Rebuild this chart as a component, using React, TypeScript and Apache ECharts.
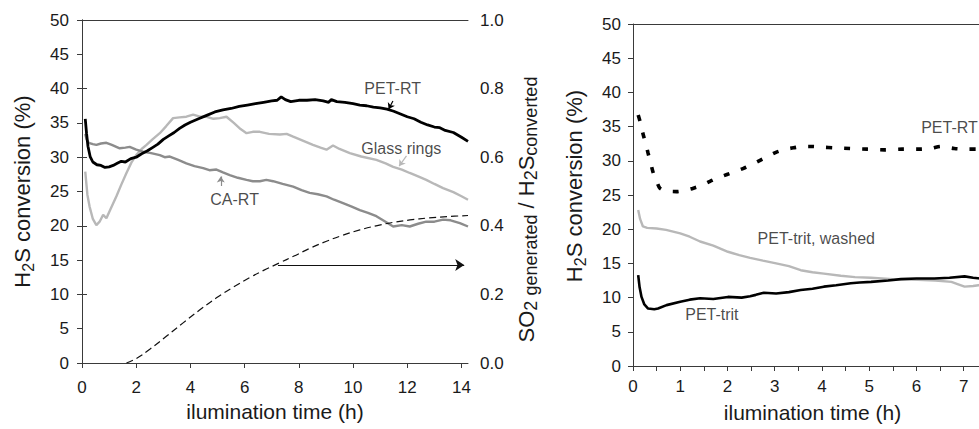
import React, { useEffect, useRef } from 'react';
import * as echarts from 'echarts';

const FONT = '"Liberation Sans", Arial, Helvetica, sans-serif';
const TEXT = '#1a1a1a';
const AXIS = '#3a3a3a';

// ---------- Left panel data ----------
const LEFT_X_LABELS = [0, 2, 4, 6, 8, 10, 12, 14];
const LEFT_X_MAX = 14.24;

const PET_RT_L = [
  [0.12, 35.6], [0.17, 33.4], [0.22, 31.6], [0.3, 30.1], [0.4, 29.3], [0.55, 28.9], [0.7, 28.8],
  [0.85, 28.5], [1.0, 28.6], [1.15, 28.8], [1.3, 29.1], [1.45, 29.4], [1.6, 29.3], [1.8, 29.8],
  [2.0, 30.0], [2.2, 30.5], [2.4, 30.9], [2.6, 31.4], [2.8, 31.9], [3.0, 32.6], [3.2, 33.1],
  [3.4, 33.6], [3.6, 34.2], [3.8, 34.7], [4.0, 35.1], [4.3, 35.6], [4.6, 36.1], [4.9, 36.6],
  [5.2, 36.9], [5.5, 37.1], [5.8, 37.4], [6.1, 37.6], [6.4, 37.8], [6.7, 38.0], [7.0, 38.2],
  [7.2, 38.3], [7.35, 38.8], [7.5, 38.4], [7.7, 38.1], [8.0, 38.3], [8.3, 38.3], [8.6, 38.4],
  [8.9, 38.2], [9.1, 38.0], [9.2, 38.4], [9.4, 38.1], [9.7, 38.0], [10.0, 37.8], [10.25, 37.6],
  [10.5, 37.5], [10.75, 37.3], [11.0, 37.2], [11.25, 37.0], [11.5, 36.7], [11.75, 36.3],
  [12.0, 35.9], [12.25, 35.6], [12.5, 35.1], [12.75, 34.7], [13.0, 34.4], [13.2, 34.3],
  [13.4, 33.9], [13.7, 33.6], [14.0, 32.9], [14.24, 32.3],
];

const GLASS_RINGS = [
  [0.12, 27.9], [0.2, 24.5], [0.28, 22.8], [0.4, 21.0], [0.53, 20.1], [0.65, 20.6], [0.78, 21.6],
  [0.9, 21.1], [1.05, 22.4], [1.27, 24.3], [1.45, 26.0], [1.64, 27.7], [1.82, 29.2], [2.0, 30.3],
  [2.2, 31.2], [2.38, 31.8], [2.6, 32.6], [2.87, 33.5], [3.1, 34.5], [3.36, 35.7], [3.6, 35.8],
  [3.85, 35.9], [4.1, 36.2], [4.35, 35.9], [4.59, 35.9], [4.85, 35.6], [5.08, 35.7], [5.33, 35.9],
  [5.6, 35.0], [5.85, 34.1], [6.07, 33.5], [6.3, 33.7], [6.56, 33.7], [6.9, 33.4], [7.3, 33.3],
  [7.55, 33.4], [7.79, 33.0], [8.1, 32.5], [8.52, 31.8], [8.8, 31.4], [9.02, 31.1], [9.26, 31.7],
  [9.5, 31.2], [9.88, 30.6], [10.3, 30.1], [10.86, 29.6], [11.2, 29.1], [11.48, 28.6],
  [11.8, 28.2], [12.09, 27.7], [12.4, 27.2], [12.7, 26.7], [13.0, 26.1], [13.32, 25.5],
  [13.7, 24.9], [14.0, 24.3], [14.24, 23.8],
];

const CA_RT = [
  [0.12, 33.4], [0.17, 32.6], [0.25, 32.1], [0.4, 31.9], [0.53, 31.8], [0.7, 32.0], [0.9, 32.1],
  [1.1, 31.8], [1.39, 31.3], [1.6, 31.4], [1.76, 31.5], [2.0, 31.1], [2.25, 30.8], [2.55, 30.6],
  [2.87, 30.3], [3.05, 30.0], [3.24, 30.1], [3.55, 29.6], [3.85, 29.1], [4.15, 28.7], [4.47, 28.4],
  [4.7, 28.1], [4.96, 28.2], [5.2, 27.8], [5.45, 27.4], [5.75, 27.0], [6.07, 26.7], [6.3, 26.5],
  [6.56, 26.5], [6.8, 26.7], [7.05, 26.5], [7.4, 26.1], [7.79, 25.7], [8.1, 25.2], [8.4, 24.8],
  [8.7, 24.6], [9.02, 24.3], [9.3, 23.8], [9.63, 23.3], [9.95, 22.8], [10.25, 22.3],
  [10.55, 21.9], [10.86, 21.4], [11.15, 20.7], [11.48, 19.9], [11.8, 20.1], [12.09, 19.9],
  [12.4, 20.3], [12.7, 20.6], [13.0, 20.6], [13.32, 20.9], [13.6, 20.8], [13.94, 20.4], [14.24, 19.9],
];

const SO2_RATIO = [
  [1.64, 0.0], [2.0, 0.013], [2.5, 0.04], [3.1, 0.077], [3.73, 0.117], [4.35, 0.155],
  [4.96, 0.19], [5.6, 0.222], [6.19, 0.249], [6.7, 0.27], [7.29, 0.292], [7.8, 0.311],
  [8.4, 0.334], [9.02, 0.355], [9.6, 0.372], [10.25, 0.388], [10.85, 0.4], [11.48, 0.41],
  [12.1, 0.417], [12.8, 0.423], [13.5, 0.427], [14.24, 0.43],
];
// arrow pointing to the right axis (x from, x to, ratio level)
const RATIO_ARROW = [7.23, 14.1, 0.286];

const LEFT_LABELS = [
  { name: 'PET-RT', value: [11.46, 39.95] },
  { name: 'Glass rings', value: [11.78, 31.2] },
  { name: 'CA-RT', value: [5.63, 23.8] },
];
const LEFT_POINTERS = [
  { from: [11.47, 38.2], to: [11.31, 37.0], color: '#000000' },
  { from: [11.97, 30.2], to: [11.7, 28.7], color: '#b8b8b8' },
  { from: [5.12, 25.8], to: [5.12, 27.2], color: '#8c8c8c' },
];

// ---------- Right panel data ----------
const RIGHT_X_LABELS = [0, 1, 2, 3, 4, 5, 6, 7];
const RIGHT_X_TICKS = [0, 0.5, 1, 1.5, 2, 2.5, 3, 3.5, 4, 4.5, 5, 5.5, 6, 6.5, 7, 7.5];
const RIGHT_X_MAX = 7.6;
const Y_LABELS = [0, 5, 10, 15, 20, 25, 30, 35, 40, 45, 50];
const RATIO_LABELS = [0, 0.2, 0.4, 0.6, 0.8, 1.0];

const PET_RT_R = [
  [0.11, 36.7], [0.16, 35.5], [0.21, 34.0], [0.27, 32.5], [0.32, 31.1], [0.38, 29.5], [0.43, 28.2],
  [0.5, 27.0], [0.57, 26.0], [0.7, 25.6], [0.92, 25.5], [1.1, 25.7], [1.28, 26.0], [1.45, 26.4],
  [1.63, 27.0], [1.8, 27.5], [1.99, 28.0], [2.15, 28.4], [2.34, 28.9], [2.5, 29.4], [2.7, 30.1],
  [2.9, 30.8], [3.05, 31.3], [3.25, 31.7], [3.4, 31.9], [3.6, 32.1], [3.76, 32.1], [4.0, 32.0],
  [4.26, 31.9], [4.6, 31.8], [4.96, 31.7], [5.32, 31.6], [5.7, 31.7], [6.03, 31.7], [6.3, 31.8],
  [6.52, 32.1], [6.8, 31.8], [7.09, 31.7], [7.35, 31.7],
];

const PET_TRIT_WASHED = [
  [0.11, 22.8], [0.15, 21.5], [0.21, 20.4], [0.3, 20.2], [0.5, 20.1], [0.7, 19.9], [1.0, 19.4],
  [1.2, 18.9], [1.42, 18.2], [1.7, 17.6], [2.01, 16.7], [2.25, 16.2], [2.48, 15.8], [2.75, 15.4],
  [3.03, 15.0], [3.3, 14.6], [3.55, 14.0], [3.8, 13.7], [4.04, 13.5], [4.4, 13.2], [4.7, 13.0],
  [5.04, 12.9], [5.5, 12.7], [6.03, 12.6], [6.4, 12.5], [6.74, 12.3], [6.9, 11.9], [7.02, 11.6],
  [7.2, 11.7], [7.35, 11.85],
];

const PET_TRIT = [
  [0.11, 13.3], [0.14, 11.5], [0.18, 10.1], [0.24, 9.0], [0.32, 8.4], [0.45, 8.3], [0.53, 8.4],
  [0.71, 8.9], [1.0, 9.4], [1.2, 9.7], [1.42, 9.9], [1.7, 9.8], [2.01, 10.1], [2.3, 10.0],
  [2.48, 10.2], [2.6, 10.4], [2.77, 10.7], [3.03, 10.6], [3.3, 10.8], [3.55, 11.1], [3.8, 11.3],
  [4.04, 11.6], [4.3, 11.8], [4.61, 12.1], [4.8, 12.2], [5.04, 12.3], [5.4, 12.5], [5.67, 12.7],
  [6.0, 12.8], [6.38, 12.8], [6.7, 12.9], [7.02, 13.1], [7.2, 12.9], [7.35, 12.8],
];

const RIGHT_LABELS = [
  { name: 'PET-RT', value: [6.7, 34.8] },
  { name: 'PET-trit, washed', value: [3.88, 18.6] },
  { name: 'PET-trit', value: [1.67, 7.46] },
];

const tickFont = { fontFamily: FONT, fontSize: 17, color: TEXT };

function App() {
  const ref = useRef<HTMLDivElement>(null);

  useEffect(() => {
    if (!ref.current) return;
    const chart = echarts.init(ref.current, undefined, { renderer: 'svg' });

    const richTitle = {
      m: { fontFamily: FONT, fontSize: 22, lineHeight: 28, color: TEXT },
      s: { fontFamily: FONT, fontSize: 16, lineHeight: 16, color: TEXT, verticalAlign: 'bottom' },
    };
    const richRatio = {
      m: { fontFamily: FONT, fontSize: 22, lineHeight: 28, color: TEXT },
      s: { fontFamily: FONT, fontSize: 18, lineHeight: 17, color: TEXT, verticalAlign: 'bottom' },
    };

    const xBottom = (grid: number, max: number, labels: number[], ticks: number[], margin: number, gap: number) => ({
      type: 'value', gridIndex: grid, min: 0, max, position: 'bottom',
      name: 'ilumination time (h)', nameLocation: 'middle', nameGap: gap,
      nameTextStyle: { fontFamily: FONT, fontSize: 21, color: TEXT },
      axisLine: { show: true, onZero: false, lineStyle: { color: AXIS, width: 1 } },
      axisTick: { show: true, length: 5, customValues: ticks, lineStyle: { color: AXIS } },
      axisLabel: { ...tickFont, margin, customValues: labels },
      splitLine: { show: false },
    });
    const xTop = (grid: number, max: number) => ({
      type: 'value', gridIndex: grid, min: 0, max, position: 'top',
      axisLine: { show: true, onZero: false, lineStyle: { color: AXIS, width: 1 } },
      axisTick: { show: false }, axisLabel: { show: false }, splitLine: { show: false },
    });

    const option: any = {
      animation: false,
      backgroundColor: '#ffffff',
      grid: [
        { left: 82, top: 20, width: 386, height: 343 },
        { left: 633, top: 24, width: 359, height: 342 },
      ],
      xAxis: [
        xBottom(0, LEFT_X_MAX, LEFT_X_LABELS, LEFT_X_LABELS, 16, 38),
        xTop(0, LEFT_X_MAX),
        xBottom(1, RIGHT_X_MAX, RIGHT_X_LABELS, RIGHT_X_TICKS, 12, 36),
        xTop(1, RIGHT_X_MAX),
      ],
      yAxis: [
        {
          type: 'value', gridIndex: 0, min: 0, max: 50, interval: 5, position: 'left',
          name: '{m|H}{s|2}{m|S conversion (%)}', nameLocation: 'middle', nameGap: 46,
          nameTextStyle: { rich: richTitle },
          axisLine: { show: true, lineStyle: { color: AXIS, width: 1 } },
          axisTick: { show: true, length: 5, customValues: Y_LABELS, lineStyle: { color: AXIS } },
          axisLabel: { ...tickFont, margin: 13, customValues: Y_LABELS },
          splitLine: { show: false },
        },
        {
          type: 'value', gridIndex: 0, min: 0, max: 1, interval: 0.2, position: 'right',
          name: '{m|SO}{s|2 generated}{m| / H}{s|2}{m|S}{s|converted}', nameLocation: 'middle', nameGap: 44,
          nameTextStyle: { rich: richRatio, padding: [0, 36, 0, 0] },
          axisLine: { show: true, lineStyle: { color: AXIS, width: 1 } },
          axisTick: { show: true, length: 5, customValues: RATIO_LABELS, lineStyle: { color: AXIS } },
          axisLabel: { ...tickFont, margin: 12, customValues: RATIO_LABELS, formatter: (v: number) => v.toFixed(1) },
          splitLine: { show: false },
        },
        {
          type: 'value', gridIndex: 1, min: 0, max: 50, interval: 5, position: 'left',
          name: '{m|H}{s|2}{m|S conversion (%)}', nameLocation: 'middle', nameGap: 45,
          nameTextStyle: { rich: richTitle, padding: [0, 0, 0, 18] },
          axisLine: { show: true, lineStyle: { color: AXIS, width: 1 } },
          axisTick: { show: true, length: 5, customValues: Y_LABELS, lineStyle: { color: AXIS } },
          axisLabel: { ...tickFont, margin: 12, customValues: Y_LABELS },
          splitLine: { show: false },
        },
      ],
      series: [
        {
          name: 'Glass rings', type: 'line', xAxisIndex: 0, yAxisIndex: 0, data: GLASS_RINGS,
          showSymbol: false, lineStyle: { color: '#b8b8b8', width: 2.4 }, z: 3,
        },
        {
          name: 'CA-RT', type: 'line', xAxisIndex: 0, yAxisIndex: 0, data: CA_RT,
          showSymbol: false, lineStyle: { color: '#8c8c8c', width: 2.4 }, z: 4,
        },
        {
          name: 'PET-RT', type: 'line', xAxisIndex: 0, yAxisIndex: 0, data: PET_RT_L,
          showSymbol: false, lineStyle: { color: '#000000', width: 2.8 }, z: 5,
        },
        {
          name: 'SO2 ratio', type: 'line', xAxisIndex: 0, yAxisIndex: 1, data: SO2_RATIO,
          showSymbol: false, smooth: 0.4, lineStyle: { color: '#111111', width: 1.2, type: [7, 4] }, z: 6,
          markLine: {
            silent: true, symbol: ['none', 'arrow'], symbolSize: 9, label: { show: false },
            lineStyle: { color: '#111111', width: 1.2, type: 'solid' },
            data: [[{ coord: [RATIO_ARROW[0], RATIO_ARROW[2]] }, { coord: [RATIO_ARROW[1], RATIO_ARROW[2]] }]],
          },
        },
        {
          name: 'left-labels', type: 'scatter', xAxisIndex: 0, yAxisIndex: 0, data: LEFT_LABELS,
          symbolSize: 1, itemStyle: { color: 'rgba(0,0,0,0)' }, silent: true, z: 7,
          label: { show: true, position: 'inside', formatter: '{b}', fontFamily: FONT, fontSize: 16, color: TEXT },
          markLine: {
            silent: true, symbol: ['none', 'arrow'], symbolSize: 6, label: { show: false },
            data: LEFT_POINTERS.map((p) => [
              { coord: p.from, lineStyle: { color: p.color, width: 1.2, type: 'solid' } },
              { coord: p.to },
            ]),
          },
        },
        {
          name: 'PET-RT (right)', type: 'line', xAxisIndex: 2, yAxisIndex: 2, data: PET_RT_R,
          showSymbol: false, smooth: 0.3, lineStyle: { color: '#000000', width: 3.6, type: [6, 12], cap: 'butt' }, z: 5,
        },
        {
          name: 'PET-trit, washed', type: 'line', xAxisIndex: 2, yAxisIndex: 2, data: PET_TRIT_WASHED,
          showSymbol: false, lineStyle: { color: '#b8b8b8', width: 2.4 }, z: 3,
        },
        {
          name: 'PET-trit', type: 'line', xAxisIndex: 2, yAxisIndex: 2, data: PET_TRIT,
          showSymbol: false, lineStyle: { color: '#000000', width: 2.6 }, z: 4,
        },
        {
          name: 'right-labels', type: 'scatter', xAxisIndex: 2, yAxisIndex: 2, data: RIGHT_LABELS,
          symbolSize: 1, itemStyle: { color: 'rgba(0,0,0,0)' }, silent: true, z: 7,
          label: { show: true, position: 'inside', formatter: '{b}', fontFamily: FONT, fontSize: 16, color: TEXT },
        },
      ],
    };

    chart.setOption(option);
    return () => chart.dispose();
  }, []);

  return (
    <div
      ref={ref}
      style={{ position: 'fixed', left: 0, top: 0, width: 1000, height: 429, background: '#fff' }}
    />
  );
}

export default App;
